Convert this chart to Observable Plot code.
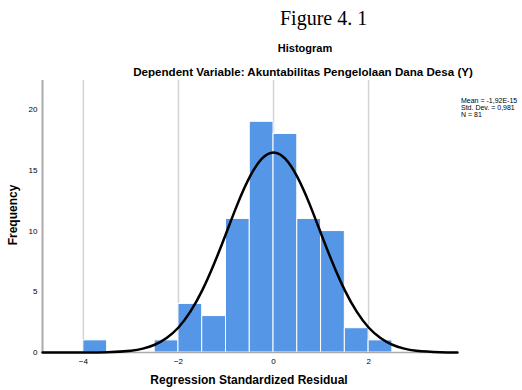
<!DOCTYPE html>
<html><head><meta charset="utf-8">
<script src="https://cdn.jsdelivr.net/npm/d3@7"></script>
<script src="https://cdn.jsdelivr.net/npm/@observablehq/plot@0.6"></script>
<style>
body{margin:0;background:#fff;}
#wrap{position:relative;width:522px;height:390px;overflow:hidden;font-family:"Liberation Sans",Arial,sans-serif;}
.t{position:absolute;white-space:nowrap;color:#000;}
</style></head>
<body><div id="wrap"></div>
<script>
const binStart = [-4, -2.5, -2, -1.5, -1, -0.5, 0, 0.5, 1, 1.5, 2];
const counts   = [1, 1, 4, 3, 11, 19, 18, 11, 10, 2, 1];
const binWidth = 0.5;
const curveX = [-4.86,-4.5,-4,-3.5,-3,-2.75,-2.5,-2.25,-2,-1.75,-1.5,-1.25,-1,-0.75,-0.5,-0.25,0,0.25,0.5,0.75,1,1.25,1.5,1.75,2,2.25,2.5,2.75,3,3.5,3.87];
const curveY = [0,0.0005,0.004,0.028,0.15,0.32,0.64,1.19,2.06,3.36,5.12,7.31,9.78,12.3,14.46,15.94,16.47,15.94,14.46,12.3,9.78,7.31,5.12,3.36,2.06,1.19,0.64,0.32,0.15,0.028,0.004];
const xTicks = [-4, -2, 0, 2];
const yTicks = [0, 5, 10, 15, 20];

const bins = binStart.map((s, i) => ({x1: s, x2: s + binWidth, y: counts[i]}));
const curve = curveX.map((x, i) => ({x, y: curveY[i]}));

const chart = Plot.plot({
  width: 522, height: 390,
  marginTop: 80, marginBottom: 38, marginLeft: 42, marginRight: 65,
  style: {fontFamily: "Liberation Sans, Arial, sans-serif", fontSize: "8px", background: "transparent"},
  x: {domain: [-4.86, 3.87], ticks: xTicks, tickSize: 0, tickPadding: 6, label: null},
  y: {domain: [0, 22.4], ticks: yTicks, tickSize: 0, tickPadding: 5, label: null},
  marks: [
    Plot.ruleX(xTicks, {stroke: "#d4d4d4", strokeWidth: 1.5}),
    Plot.rectY(bins, {x1: "x1", x2: "x2", y: "y", fill: "#5596e6", stroke: "#ffffff", strokeWidth: 1}),
    Plot.ruleX([-4.86], {stroke: "#aaaaaa", strokeWidth: 2}),
    Plot.ruleY([0], {stroke: "#aaaaaa", strokeWidth: 1.5}),
    Plot.line(curve, {x: "x", y: "y", curve: "natural", stroke: "#000", strokeWidth: 2.5})
  ]
});
const wrap = document.getElementById("wrap");
chart.style.position = "absolute"; chart.style.left = "0"; chart.style.top = "0";
wrap.appendChild(chart);

function addText(txt, css){
  const d = document.createElement("div");
  d.className = "t"; d.textContent = txt;
  Object.assign(d.style, css);
  wrap.appendChild(d);
  return d;
}
addText("Figure 4. 1", {left:"280px", top:"7px", fontFamily:"'Liberation Serif','Times New Roman',serif", fontSize:"20px"});
addText("Histogram", {left:"0", width:"610px", textAlign:"center", top:"42px", fontSize:"11px", fontWeight:"bold"});
addText("Dependent Variable: Akuntabilitas Pengelolaan Dana Desa (Y)", {left:"0", width:"606px", textAlign:"center", top:"65px", fontSize:"11.6px", fontWeight:"bold"});
addText("Regression Standardized Residual", {left:"0", width:"498px", textAlign:"center", top:"373px", fontSize:"12px", fontWeight:"bold"});
addText("Frequency", {left:"13px", top:"215px", fontSize:"12px", fontWeight:"bold", transform:"translate(-50%,-50%) rotate(-90deg)"});
addText("Mean = -1,92E-15", {left:"461px", top:"97px", fontSize:"7px", lineHeight:"7px"});
addText("Std. Dev. = 0,981", {left:"461px", top:"104px", fontSize:"7px", lineHeight:"7px"});
addText("N = 81", {left:"461px", top:"111px", fontSize:"7px", lineHeight:"7px"});
</script>
</body></html>
